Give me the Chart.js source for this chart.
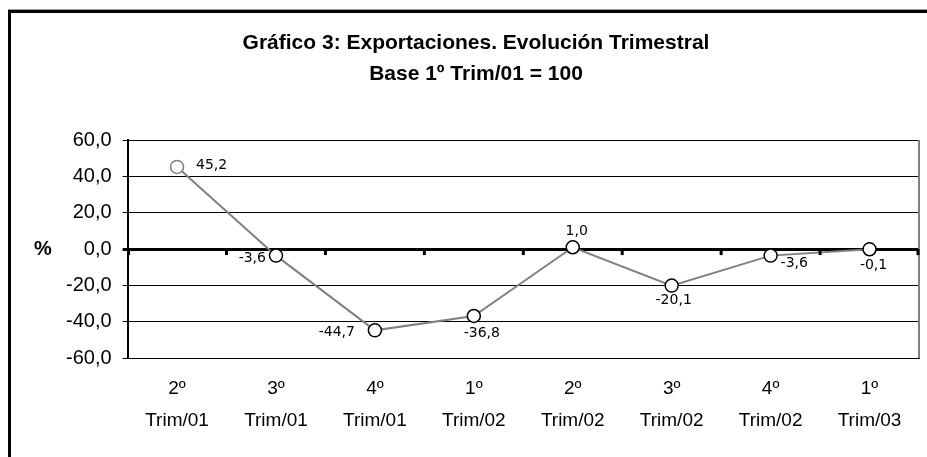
<!DOCTYPE html>
<html>
<head>
<meta charset="utf-8">
<script src="https://cdn.jsdelivr.net/npm/chart.js@4.4.1/dist/chart.umd.min.js"></script>
<style>
  html, body { margin: 0; padding: 0; background: #fff; }
  #wrap { width: 927px; height: 457px; }
</style>
</head>
<body>
<div id="wrap"><canvas id="chart"></canvas></div>
<script>
const categories = [
  ['2º', 'Trim/01'], ['3º', 'Trim/01'], ['4º', 'Trim/01'], ['1º', 'Trim/02'],
  ['2º', 'Trim/02'], ['3º', 'Trim/02'], ['4º', 'Trim/02'], ['1º', 'Trim/03']
]
const values = [45.2, -3.6, -44.7, -36.8, 1.0, -20.1, -3.6, -0.1]
const titleLines = ['Gráfico 3: Exportaciones. Evolución Trimestral', 'Base 1º Trim/01 = 100']
const yMin = -60
const yMax = 60
const yStep = 20

const fmt = v => v.toFixed(1).replace('.', ',')

// where each value label sits relative to its point
const labelPos = [
  { dx: 19, dy: -2, align: 'left' },
  { dx: -10, dy: 3, align: 'right' },
  { dx: -20, dy: 2, align: 'right' },
  { dx: 8, dy: 17, align: 'center' },
  { dx: 4, dy: -16, align: 'center' },
  { dx: 2, dy: 15, align: 'center' },
  { dx: 10, dy: 8, align: 'left' },
  { dx: 4, dy: 16, align: 'center' }
]

const extras = {
  id: 'extras',
  beforeDraw(chart) {
    const c = chart.ctx
    c.save()
    // frame (top and left edges visible)
    c.strokeStyle = '#000'
    c.lineWidth = 3
    c.beginPath()
    c.moveTo(9.5, 460)
    c.lineTo(9.5, 11.5)
    c.lineTo(930, 11.5)
    c.stroke()
    c.strokeStyle = '#999'
    c.lineWidth = 1
    c.beginPath()
    c.moveTo(8, 9.5)
    c.lineTo(930, 9.5)
    c.stroke()
    // title
    c.fillStyle = '#000'
    c.font = 'bold 21px "Liberation Sans"'
    c.textAlign = 'center'
    c.textBaseline = 'middle'
    c.fillText(titleLines[0], 476, 43)
    c.fillText(titleLines[1], 476, 74)
    c.restore()
  },
  afterDatasetsDraw(chart) {
    const c = chart.ctx
    const area = chart.chartArea
    const x = chart.scales.x
    const y = chart.scales.y
    const y0 = y.getPixelForValue(0)
    c.save()
    // right edge of plot
    c.strokeStyle = '#808080'
    c.lineWidth = 2
    c.beginPath()
    c.moveTo(area.right, area.top)
    c.lineTo(area.right, area.bottom)
    c.stroke()
    // tick marks on the zero line between categories
    c.strokeStyle = '#000'
    c.lineWidth = 3
    for (let i = 0; i <= categories.length; i++) {
      let px
      if (i === 0) px = area.left + 1
      else if (i === categories.length) px = area.right - 1
      else px = (x.getPixelForValue(i - 1) + x.getPixelForValue(i)) / 2
      c.beginPath()
      c.moveTo(px, y0)
      c.lineTo(px, y0 + 6)
      c.stroke()
    }
    // % label
    c.fillStyle = '#000'
    c.font = 'bold 20px "Liberation Sans"'
    c.textAlign = 'center'
    c.textBaseline = 'middle'
    c.fillText('%', 43, y0)
    // value labels
    c.font = '14px "DejaVu Sans"'
    const meta = chart.getDatasetMeta(0)
    meta.data.forEach((pt, i) => {
      const p = labelPos[i]
      c.textAlign = p.align
      c.fillText(fmt(values[i]), pt.x + p.dx, pt.y + p.dy)
    })
    c.restore()
  }
}

new Chart(document.getElementById('chart'), {
  type: 'line',
  data: {
    labels: categories,
    datasets: [{
      data: values,
      borderColor: '#808080',
      borderWidth: 2,
      pointRadius: 6.5,
      pointBorderWidth: 1.5,
      pointBackgroundColor: '#fff',
      pointBorderColor: values.map((v, i) => i === 0 ? '#808080' : '#000'),
      tension: 0
    }]
  },
  options: {
    responsive: true,
    maintainAspectRatio: false,
    animation: false,
    layout: { padding: { left: 55, right: 7, top: 140, bottom: 5 } },
    plugins: {
      legend: { display: false },
      tooltip: { enabled: false },
      title: { display: false }
    },
    scales: {
      x: {
        offset: true,
        grid: { display: false, drawTicks: false },
        border: { display: true, color: '#000', width: 1 },
        ticks: {
          color: '#000',
          padding: 15,
          maxRotation: 0,
          autoSkip: false,
          font: { family: '"Liberation Sans"', size: 19, lineHeight: 1.68 }
        }
      },
      y: {
        min: yMin,
        max: yMax,
        grid: {
          color: '#000',
          lineWidth: ctx => ctx.tick && ctx.tick.value === 0 ? 3 : 1,
          tickLength: 5,
          tickColor: '#000'
        },
        border: { color: '#000', width: 2 },
        ticks: {
          stepSize: yStep,
          color: '#000',
          padding: 11,
          font: { family: '"Liberation Sans"', size: 20 },
          callback: v => fmt(v)
        }
      }
    }
  },
  plugins: [extras]
})
</script>
</body>
</html>
